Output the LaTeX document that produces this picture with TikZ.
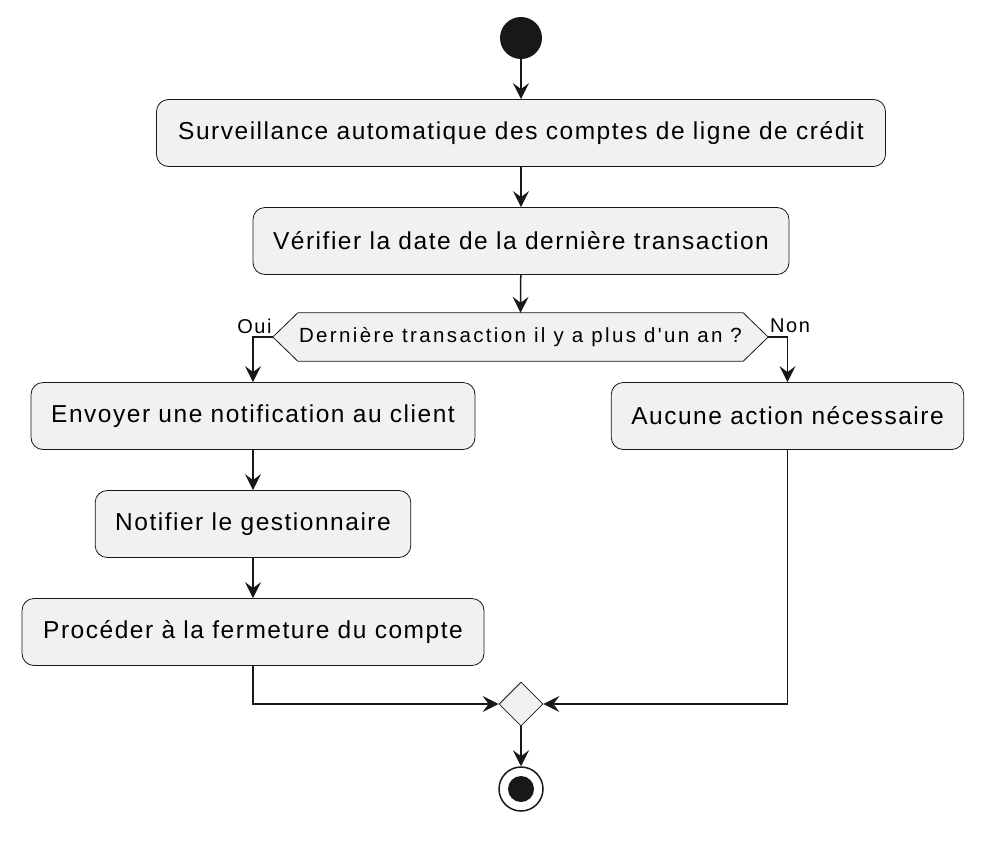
\documentclass[tikz,border=0pt]{standalone}
\usepackage{fontspec}
\setmainfont{Liberation Sans}
\newfontfamily\boxfont[LetterSpace=6.2]{Liberation Sans}
\newfontfamily\hexfont[LetterSpace=8]{Liberation Sans}
\newfontfamily\qfont[LetterSpace=11.5]{Liberation Sans}
\usetikzlibrary{arrows.meta,shapes.geometric,calc}
\definecolor{boxfill}{HTML}{F1F1F1}
\definecolor{ink}{HTML}{181818}
\tikzset{
  act/.style={draw=ink, fill=boxfill, rounded corners=12pt, line width=0.8pt, minimum height=67pt, inner xsep=20pt, font=\boxfont\fontsize{24.5}{28}\selectfont, text=black},
  flow/.style={draw=ink, line width=1.5pt, -{Stealth[length=16pt,width=16pt,inset=6pt]}},
  lbl/.style={font=\hexfont\fontsize{20}{22}\selectfont, text=black},
}
\begin{document}
\begin{tikzpicture}[x=1pt,y=-1pt]
\useasboundingbox (0,0) rectangle (992,846);
\fill[white] (0,0) rectangle (992,846);
\node[circle, fill=ink, minimum size=42pt, inner sep=0pt] (start) at (521,38) {};
\node[act, minimum width=729pt] (b1) at (521,133) {Surveillance automatique des comptes de ligne de crédit};
\node[act, minimum width=536pt] (b2) at (521,241) {Vérifier la date de la dernière transaction};
\node[minimum width=445pt, minimum height=48pt, inner sep=0pt] (d) at (520.5,337) {};
\draw[draw=ink, fill=boxfill, line width=0.8pt] (d.north west) -- (d.north east) -- ([xshift=25pt]d.east) coordinate (dr) -- (d.south east) -- (d.south west) -- ([xshift=-25pt]d.west) coordinate (dl) -- cycle;
\node[font=\qfont\fontsize{20.5}{22}\selectfont] (dt) at (d.center) {Dernière transaction il y a plus d'un an ?};
\node[act, minimum width=444pt] (b3) at (253,416) {Envoyer une notification au client};
\node[act, minimum width=349pt] (br) at (787.5,416) {Aucune action nécessaire};
\node[act, minimum width=314pt] (b4) at (253,524) {Notifier le gestionnaire};
\node[act, minimum width=462pt] (b5) at (253,632) {Procéder à la fermeture du compte};
\node[diamond, draw=ink, fill=boxfill, line width=0.8pt, minimum size=44pt, inner sep=0pt] (m) at (521,704) {};
\node[circle, draw=ink, fill=white, line width=1.5pt, minimum size=44pt, inner sep=0pt] (end) at (521,789) {};
\node[circle, fill=ink, minimum size=26pt, inner sep=0pt] (endi) at (end.center) {};
\node[lbl] (oui) at (254.5,326) {Oui};
\node[lbl] (non) at (790,326) {Non};
\draw[flow] (start) -- (b1);
\draw[flow] (b1) -- (b2);
\draw[flow] (b2) -- (d.north);
\draw[flow] (dl) -| (b3.north);
\draw[flow] (dr) -| (br.north);
\draw[flow] (b3) -- (b4);
\draw[flow] (b4) -- (b5);
\draw[flow] (b5.south) |- (m.west);
\draw[flow] (br.south) |- (m.east);
\draw[flow] (m) -- (end);
\end{tikzpicture}
\end{document}
